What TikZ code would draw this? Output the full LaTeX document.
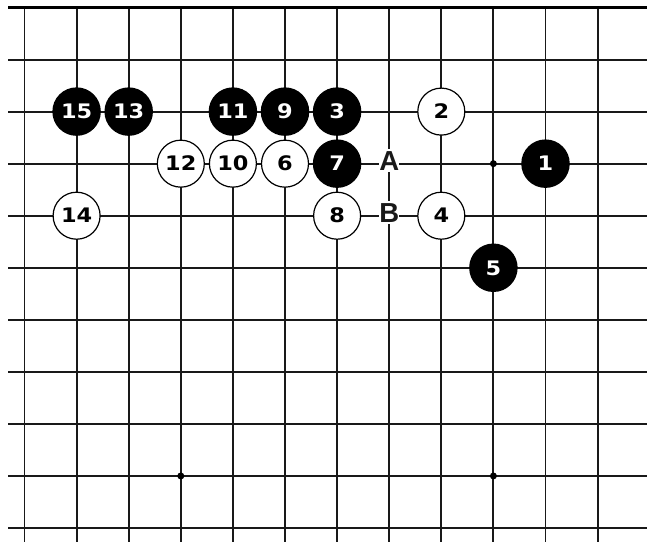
\documentclass[tikz,border=0pt]{standalone}
\usepackage{fontspec}
\setmainfont{DejaVu Sans}
\newfontfamily\numfont{DejaVu Sans}[FakeStretch=1.12]
\newfontfamily\lblfont{Liberation Sans}
\begin{document}
\begin{tikzpicture}[x=1pt,y=-1pt,
  gridline/.style={line width=1.9pt,black!90},
  edgeline/.style={line width=3.2pt,black},
  numtext/.style={font=\numfont\bfseries\fontsize{20}{21}\selectfont,text height=14.5pt,text depth=0pt},
  bstone/.style={circle,fill=black,minimum size=48.5pt,inner sep=0pt,text=white,numtext},
  wstone/.style={circle,draw=black,line width=1.2pt,fill=white,minimum size=47pt,inner sep=0pt,text=black,numtext},
  letterlbl/.style={fill=white,font=\lblfont\bfseries\fontsize{27.5}{28}\selectfont,text=black!90,inner xsep=0.3pt,inner ysep=1.5pt,text height=19.7pt,text depth=0pt,anchor=base,yshift=-6.5pt},
  starpt/.style={circle,fill=black,minimum size=7pt,inner sep=0pt}]
\useasboundingbox (0,0) rectangle (647,542);
\fill[white] (0,0) rectangle (647,542);
% grid
\foreach \r in {1,...,10} \draw[gridline] (8,{7.5+52.05*\r}) -- (647,{7.5+52.05*\r});
\foreach \c in {0,...,11} \draw[gridline] ({24.5+52.1*\c},7.5) -- ({24.5+52.1*\c},542);
\draw[edgeline] (8,7.5) -- (647,7.5);
\begin{scope}[shift={(24.5,7.5)},x=52.1pt,y=-52.05pt]
  % star points
  \node[starpt] (s1) at (9,3) {};
  \node[starpt] (s2) at (3,9) {};
  \node[starpt] (s3) at (9,9) {};
  % stones
  \node[bstone] (m1) at (10,3) {1};
  \node[wstone] (m2) at (8,2) {2};
  \node[bstone] (m3) at (6,2) {3};
  \node[wstone] (m4) at (8,4) {4};
  \node[bstone] (m5) at (9,5) {5};
  \node[wstone] (m6) at (5,3) {6};
  \node[bstone] (m7) at (6,3) {7};
  \node[wstone] (m8) at (6,4) {8};
  \node[bstone] (m9) at (5,2) {9};
  \node[wstone] (m10) at (4,3) {10};
  \node[bstone] (m11) at (4,2) {11};
  \node[wstone] (m12) at (3,3) {12};
  \node[bstone] (m13) at (2,2) {13};
  \node[wstone] (m14) at (1,4) {14};
  \node[bstone] (m15) at (1,2) {15};
  % letters
  \node[letterlbl] (la) at (7,3) {A};
  \node[letterlbl] (lb) at (7,4) {B};
\end{scope}
\end{tikzpicture}
\end{document}
